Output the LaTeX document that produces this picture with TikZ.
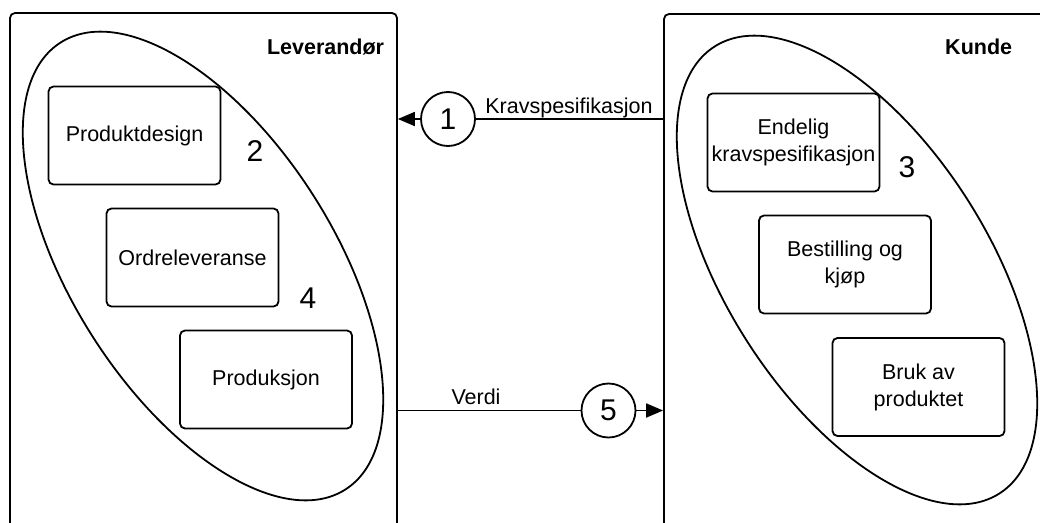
\documentclass[tikz,border=0pt]{standalone}
\usepackage{fontspec}
\setmainfont{Liberation Sans}
\usetikzlibrary{shapes.geometric,arrows.meta}
\newcommand{\bodyfont}{\fontsize{21.5}{27}\selectfont}
\newcommand{\bignumfont}{\fontsize{30}{32}\selectfont}
\begin{document}
\begin{tikzpicture}[x=1pt,y=-1pt,
  every path/.style={line width=1.8pt},
  panel/.style={draw, line width=1.8pt, rounded corners=5pt, inner sep=0pt},
  taskbox/.style={draw, line width=1.8pt, rounded corners=5pt, minimum width=172pt,
    minimum height=98pt, align=center, font=\bodyfont, inner sep=2pt},
  oval/.style={draw, line width=1.8pt, ellipse, minimum width=530pt, minimum height=262pt,
    inner sep=0pt, rotate=-57.5},
  numcirc/.style={draw, line width=1.8pt, circle, minimum size=54pt, inner sep=0pt,
    font=\bignumfont},
  bignum/.style={font=\bignumfont, inner sep=0pt},
  title/.style={font=\bodyfont\bfseries, inner sep=0pt, anchor=base east},
  flowlabel/.style={font=\bodyfont, inner sep=0pt, anchor=base},
  flow/.style={line width=1.8pt},
  tip/.style={-{Triangle[length=17pt,width=14pt]}}
]
\useasboundingbox (0,0) rectangle (1040,522);

% two parties
\node[panel, minimum width=387pt, minimum height=560pt] (lev) at (203.5,293) {};
\node[panel, minimum width=420pt, minimum height=560pt] (kunde) at (874,294) {};
\node[title] (levtitle) at (385,54) {Leverandør};
\node[title] (kundetitle) at (1013,54) {Kunde};

% process groups
\node[oval] (levoval) at (203,266) {};
\node[oval] (kundeoval) at (857,270) {};

% supplier activities
\node[taskbox] (design) at (134.5,135.5) {Produktdesign};
\node[taskbox] (ordre) at (192.5,257.5) {Ordreleveranse};
\node[taskbox] (prod) at (266,379.5) {Produksjon};
\node[bignum] (n2) at (255,151) {2};
\node[bignum] (n4) at (308,298) {4};

% customer activities
\node[taskbox] (endelig) at (793.5,142.5) {Endelig\\kravspesifikasjon};
\node[taskbox] (bestilling) at (845,264.5) {Bestilling og\\kjøp};
\node[taskbox] (bruk) at (918.5,387) {Bruk av\\produktet};
\node[bignum] (n3) at (907,167) {3};

% exchanges between the parties
\node[numcirc] (c1) at (448,119) {1};
\node[numcirc] (c5) at (608.5,410.5) {5};
\node[flowlabel] (kravlbl) at (569,113) {Kravspesifikasjon};
\node[flowlabel] (verdilbl) at (476,404) {Verdi};

\draw[flow] (kunde.west |- c1.east) -- (c1.east);
\draw[flow, tip] (c1.west) -- (lev.east |- c1.west);
\draw[flow] (lev.east |- c5.west) -- (c5.west);
\draw[flow, tip] (c5.east) -- (kunde.west |- c5.east);
\end{tikzpicture}
\end{document}
